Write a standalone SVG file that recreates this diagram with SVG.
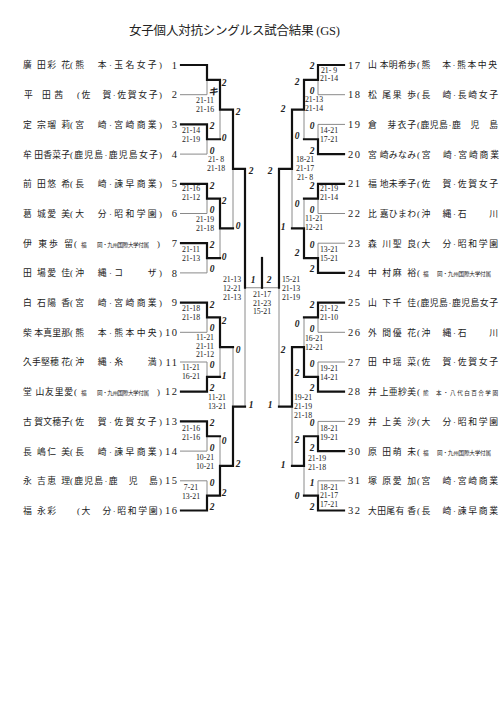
<svg xmlns="http://www.w3.org/2000/svg" width="500" height="708" viewBox="0 0 500 708">
<style>
.bg{fill:#fff}
.tt{font-family:"Liberation Serif","Noto Sans CJK JP",serif;font-size:12.5px;fill:#222}
.nm{font-family:"Liberation Serif","Noto Sans CJK JP",serif;font-size:8.8px;fill:#222}
.sm{font-size:5.6px}
.no{font-family:"Liberation Serif",serif;font-size:10.5px;letter-spacing:1.5px;fill:#222}
.nl{text-anchor:end}
.sc{font-family:"Liberation Serif",serif;font-size:7.8px;text-anchor:middle;fill:#222}
.mk{font-family:"Liberation Serif","Noto Sans CJK JP",serif;font-size:9.5px;font-style:italic;font-weight:bold;text-anchor:middle;fill:#222}
.tk{stroke:#111;stroke-width:2.2;fill:none;stroke-linejoin:miter;stroke-linecap:square}
.tn{stroke:#8a8a8a;stroke-width:1;fill:none}
</style>
<rect class="bg" x="0" y="0" width="500" height="708"/>
<text class="tt" x="129" y="35" textLength="211">女子個人対抗シングルス試合結果 (GS)</text>

<g id="connectors">
<g id="thin">
<path class="tn" d="M180,94.7H207V79.85"/>
<path class="tn" d="M180,154.1H207V139.25"/>
<path class="tn" d="M220,109.55V139.25"/>
<path class="tn" d="M180,213.5H207V198.65"/>
<path class="tn" d="M180,272.9H207V258.05"/>
<path class="tn" d="M220,228.35V258.05"/>
<path class="tn" d="M233,168.95V228.35"/>
<path class="tn" d="M180,332.3H207V317.45"/>
<path class="tn" d="M180,362H207V376.85"/>
<path class="tn" d="M220,347.15V376.85"/>
<path class="tn" d="M180,451.1H207V436.25"/>
<path class="tn" d="M180,480.8H207V495.65"/>
<path class="tn" d="M220,436.25V465.95"/>
<path class="tn" d="M233,347.15V406.55"/>
<path class="tn" d="M245,287.75V406.55"/>
<path class="tn" d="M245,287.75H279"/>
<path class="tn" d="M345,94.7H318V79.85"/>
<path class="tn" d="M345,124.4H318V139.25"/>
<path class="tn" d="M304,109.55V139.25"/>
<path class="tn" d="M345,213.5H318V198.65"/>
<path class="tn" d="M345,243.2H318V258.05"/>
<path class="tn" d="M304,198.65V228.35"/>
<path class="tn" d="M292,168.95V228.35"/>
<path class="tn" d="M345,332.3H318V317.45"/>
<path class="tn" d="M345,362H318V376.85"/>
<path class="tn" d="M304,317.45V347.15"/>
<path class="tn" d="M345,421.4H318V436.25"/>
<path class="tn" d="M345,480.8H318V495.65"/>
<path class="tn" d="M304,465.95V495.65"/>
<path class="tn" d="M292,406.55V465.95"/>
<path class="tn" d="M279,287.75V406.55"/>
</g>
<g id="thick">
<path class="tk" d="M181,65H207V79.85H220V109.55H233V168.95H245V287.75"/>
<path class="tk" d="M181,124.4H207V139.25H220"/>
<path class="tk" d="M181,183.8H207V198.65H220V228.35H233"/>
<path class="tk" d="M181,243.2H207V258.05H220"/>
<path class="tk" d="M181,302.6H207V317.45H220V347.15H233"/>
<path class="tk" d="M181,391.7H207V376.85H220"/>
<path class="tk" d="M181,421.4H207V436.25H220"/>
<path class="tk" d="M181,510.5H207V495.65H220V465.95H233V406.55H245"/>
<path class="tk" d="M344,65H318V79.85H304V109.55H292V168.95H279V287.75"/>
<path class="tk" d="M344,154.1H318V139.25H304"/>
<path class="tk" d="M344,183.8H318V198.65H304"/>
<path class="tk" d="M344,272.9H318V258.05H304V228.35H292"/>
<path class="tk" d="M344,302.6H318V317.45H304"/>
<path class="tk" d="M344,391.7H318V376.85H304V347.15H292V406.55H279"/>
<path class="tk" d="M344,451.1H318V436.25H304V465.95H292"/>
<path class="tk" d="M344,510.5H318V495.65H304"/>
<path class="tk" d="M262,258V287.75"/>
</g>
</g>

<g id="players-left">
<g id="p1"><text class="nm" x="23" y="68.4" textLength="47">廣 田彩 花</text><text class="nm" x="70" y="68.4" textLength="92">(熊　本·玉名女子)</text><text class="no nl" x="178.5" y="68.6">1</text></g>
<g id="p2"><text class="nm" x="24" y="98.1" textLength="39">平 田茜</text><text class="nm" x="77" y="98.1" textLength="85">(佐　賀·佐賀女子)</text><text class="no nl" x="178.5" y="98.3">2</text></g>
<g id="p3"><text class="nm" x="23" y="127.8" textLength="47">定 宗瑠 莉</text><text class="nm" x="70" y="127.8" textLength="92">(宮　崎·宮崎商業)</text><text class="no nl" x="178.5" y="128">3</text></g>
<g id="p4"><text class="nm" x="23" y="157.5" textLength="47">牟 田香菜子</text><text class="nm" x="70" y="157.5" textLength="92">(鹿児島·鹿児島女子)</text><text class="no nl" x="178.5" y="157.7">4</text></g>
<g id="p5"><text class="nm" x="23" y="187.2" textLength="47">前 田悠 希</text><text class="nm" x="70" y="187.2" textLength="92">(長　崎·諫早商業)</text><text class="no nl" x="178.5" y="187.4">5</text></g>
<g id="p6"><text class="nm" x="23" y="216.9" textLength="47">葛 城愛 美</text><text class="nm" x="70" y="216.9" textLength="92">(大　分·昭和学園)</text><text class="no nl" x="178.5" y="217.1">6</text></g>
<g id="p7"><text class="nm" x="23" y="246.6" textLength="50">伊 東歩 留</text><text class="nm" x="74" y="246.6">(</text><text class="nm sm" x="81" y="246.6">福</text><text class="nm sm" x="97" y="246.6" textLength="52">岡・九州国際大学付属</text><text class="nm" x="157" y="246.6">)</text><text class="no nl" x="178.5" y="246.8">7</text></g>
<g id="p8"><text class="nm" x="23" y="276.3" textLength="47">田 場愛 佳</text><text class="nm" x="70" y="276.3" textLength="92">(沖　縄·コ　　ザ)</text><text class="no nl" x="178.5" y="276.5">8</text></g>
<g id="p9"><text class="nm" x="23" y="306" textLength="47">白 石陽 香</text><text class="nm" x="70" y="306" textLength="92">(宮　崎·宮崎商業)</text><text class="no nl" x="178.5" y="306.2">9</text></g>
<g id="p10"><text class="nm" x="23" y="335.7" textLength="47">柴 本真里那</text><text class="nm" x="70" y="335.7" textLength="92">(熊　本·熊本中央)</text><text class="no nl" x="178.5" y="335.9">10</text></g>
<g id="p11"><text class="nm" x="23" y="365.4" textLength="47">久手堅穂 花</text><text class="nm" x="70" y="365.4" textLength="92">(沖　縄·糸　　満)</text><text class="no nl" x="178.5" y="365.6">11</text></g>
<g id="p12"><text class="nm" x="23" y="395.1" textLength="50">堂 山友里愛</text><text class="nm" x="74" y="395.1">(</text><text class="nm sm" x="81" y="395.1">福</text><text class="nm sm" x="97" y="395.1" textLength="52">岡・九州国際大学付属</text><text class="nm" x="157" y="395.1">)</text><text class="no nl" x="178.5" y="395.3">12</text></g>
<g id="p13"><text class="nm" x="23" y="424.8" textLength="47">古 賀文穂子</text><text class="nm" x="70" y="424.8" textLength="92">(佐　賀·佐賀女子)</text><text class="no nl" x="178.5" y="425">13</text></g>
<g id="p14"><text class="nm" x="23" y="454.5" textLength="47">長 嶋仁 美</text><text class="nm" x="70" y="454.5" textLength="92">(長　崎·諫早商業)</text><text class="no nl" x="178.5" y="454.7">14</text></g>
<g id="p15"><text class="nm" x="23" y="484.2" textLength="47">永 吉恵 理</text><text class="nm" x="70" y="484.2" textLength="92">(鹿児島·鹿　児　島)</text><text class="no nl" x="178.5" y="484.4">15</text></g>
<g id="p16"><text class="nm" x="23" y="513.9" textLength="33">福 永彩</text><text class="nm" x="77" y="513.9" textLength="85">(大　分·昭和学園)</text><text class="no nl" x="178.5" y="514.1">16</text></g>
</g>

<g id="players-right">
<g id="p17"><text class="no" x="348" y="68.6">17</text><text class="nm" x="368" y="68.4" textLength="48">山 本明希歩</text><text class="nm" x="417" y="68.4" textLength="80">(熊　本·熊本中央</text></g>
<g id="p18"><text class="no" x="348" y="98.3">18</text><text class="nm" x="368" y="98.1" textLength="48">松 尾果 歩</text><text class="nm" x="417" y="98.1" textLength="81">(長　崎·長崎女子</text></g>
<g id="p19"><text class="no" x="348" y="128">19</text><text class="nm" x="368" y="127.8" textLength="48">倉　芽衣子</text><text class="nm" x="417" y="127.8" textLength="81">(鹿児島·鹿　児　島</text></g>
<g id="p20"><text class="no" x="348" y="157.7">20</text><text class="nm" x="368" y="157.5" textLength="48">宮 崎みなみ</text><text class="nm" x="417" y="157.5" textLength="82">(宮　崎·宮崎商業</text></g>
<g id="p21"><text class="no" x="348" y="187.4">21</text><text class="nm" x="368" y="187.2" textLength="48">福 地未季子</text><text class="nm" x="417" y="187.2" textLength="81">(佐　賀·佐賀女子</text></g>
<g id="p22"><text class="no" x="348" y="217.1">22</text><text class="nm" x="368" y="216.9" textLength="48">比 嘉ひまわ</text><text class="nm" x="417" y="216.9" textLength="81">(沖　縄·石　　川</text></g>
<g id="p23"><text class="no" x="348" y="246.8">23</text><text class="nm" x="368" y="246.6" textLength="48">森 川聖 良</text><text class="nm" x="417" y="246.6" textLength="81">(大　分·昭和学園</text></g>
<g id="p24"><text class="no" x="348" y="276.5">24</text><text class="nm" x="368" y="276.3" textLength="48">中 村麻 裕</text><text class="nm" x="417" y="276.3">(</text><text class="nm sm" x="423" y="276.3">福</text><text class="nm sm" x="437" y="276.3" textLength="54">岡・九州国際大学付属</text></g>
<g id="p25"><text class="no" x="348" y="306.2">25</text><text class="nm" x="368" y="306" textLength="48">山 下千 佳</text><text class="nm" x="417" y="306" textLength="81">(鹿児島·鹿児島女子</text></g>
<g id="p26"><text class="no" x="348" y="335.9">26</text><text class="nm" x="368" y="335.7" textLength="48">外 間優 花</text><text class="nm" x="417" y="335.7" textLength="81">(沖　縄·石　　川</text></g>
<g id="p27"><text class="no" x="348" y="365.6">27</text><text class="nm" x="368" y="365.4" textLength="48">田 中瑶 菜</text><text class="nm" x="417" y="365.4" textLength="81">(佐　賀·佐賀女子</text></g>
<g id="p28"><text class="no" x="348" y="395.3">28</text><text class="nm" x="368" y="395.1" textLength="48">井 上亜紗美</text><text class="nm" x="417" y="395.1">(</text><text class="nm sm" x="423" y="395.1">熊</text><text class="nm sm" x="436" y="395.1" textLength="62">本・八代白百合学園</text></g>
<g id="p29"><text class="no" x="348" y="425">29</text><text class="nm" x="368" y="424.8" textLength="48">井 上美 沙</text><text class="nm" x="417" y="424.8" textLength="81">(大　分·昭和学園</text></g>
<g id="p30"><text class="no" x="348" y="454.7">30</text><text class="nm" x="368" y="454.5" textLength="48">原 田萌 未</text><text class="nm" x="417" y="454.5">(</text><text class="nm sm" x="423" y="454.5">福</text><text class="nm sm" x="437" y="454.5" textLength="54">岡・九州国際大学付属</text></g>
<g id="p31"><text class="no" x="348" y="484.4">31</text><text class="nm" x="368" y="484.2" textLength="48">塚 原愛 加</text><text class="nm" x="417" y="484.2" textLength="81">(宮　崎·宮崎商業</text></g>
<g id="p32"><text class="no" x="348" y="514.1">32</text><text class="nm" x="368" y="513.9" textLength="48">大田尾有 香</text><text class="nm" x="417" y="513.9" textLength="81">(長　崎·諫早商業</text></g>
</g>

<g id="marks">
<text class="mk" x="213" y="94.6">キ</text>
<text class="mk" x="212" y="129.4">2</text><text class="mk" x="212" y="153.6">0</text>
<text class="mk" x="212" y="188.8">2</text><text class="mk" x="212" y="213">0</text>
<text class="mk" x="212" y="248.2">2</text><text class="mk" x="212" y="272.4">0</text>
<text class="mk" x="212" y="307.6">2</text><text class="mk" x="212" y="330.6">0</text>
<text class="mk" x="212" y="368">0</text><text class="mk" x="212" y="391.2">2</text>
<text class="mk" x="212" y="426.4">2</text><text class="mk" x="212" y="450.6">0</text>
<text class="mk" x="212" y="485.8">0</text><text class="mk" x="212" y="510">2</text>
<text class="mk" x="224" y="85.5">2</text><text class="mk" x="224" y="140.5">0</text>
<text class="mk" x="224" y="203.5">2</text><text class="mk" x="224" y="259.5">0</text>
<text class="mk" x="224" y="323.5">2</text><text class="mk" x="224" y="378.5">1</text>
<text class="mk" x="224" y="443.5">0</text><text class="mk" x="224" y="495.5">2</text>
<text class="mk" x="238" y="114.5">2</text><text class="mk" x="238" y="228.5">0</text>
<text class="mk" x="238" y="352.5">0</text><text class="mk" x="238" y="466.5">2</text>
<text class="mk" x="251" y="173.5">2</text><text class="mk" x="251" y="407.5">1</text>
<text class="mk" x="253" y="282.5">1</text><text class="mk" x="269" y="282.5">2</text>
<text class="mk" x="270" y="173.5">2</text><text class="mk" x="270" y="407.5">1</text>
<text class="mk" x="283" y="111.5">2</text><text class="mk" x="283" y="229.5">1</text>
<text class="mk" x="283" y="352.5">2</text><text class="mk" x="283" y="467.5">1</text>
<text class="mk" x="297" y="84.5">2</text><text class="mk" x="297" y="138.5">0</text>
<text class="mk" x="297" y="206.5">0</text><text class="mk" x="297" y="255.5">2</text>
<text class="mk" x="297" y="326.5">0</text><text class="mk" x="297" y="375.5">2</text>
<text class="mk" x="297" y="442.5">2</text><text class="mk" x="297" y="498.5">0</text>
<text class="mk" x="312" y="69">2</text><text class="mk" x="312" y="94.2">0</text>
<text class="mk" x="312" y="129.4">0</text><text class="mk" x="312" y="153.6">2</text>
<text class="mk" x="312" y="188.8">2</text><text class="mk" x="312" y="213">0</text>
<text class="mk" x="312" y="248.2">0</text><text class="mk" x="312" y="272.4">2</text>
<text class="mk" x="312" y="307.6">2</text><text class="mk" x="312" y="331.8">0</text>
<text class="mk" x="312" y="367">0</text><text class="mk" x="312" y="391.2">2</text>
<text class="mk" x="312" y="426.4">0</text><text class="mk" x="312" y="450.6">2</text>
<text class="mk" x="312" y="485.8">1</text><text class="mk" x="312" y="510">2</text>
</g>

<g id="scores">
<text class="sc" x="205" y="103.2">21-11</text><text class="sc" x="205" y="111.7">21-16</text>
<text class="sc" x="191" y="132.7">21-14</text><text class="sc" x="191" y="141.7">21-19</text>
<text class="sc" x="216" y="162.2">21- 8</text><text class="sc" x="216" y="170.7">21-18</text>
<text class="sc" x="191" y="191.2">21-16</text><text class="sc" x="191" y="199.7">21-12</text>
<text class="sc" x="205" y="222.2">21-19</text><text class="sc" x="205" y="230.7">21-18</text>
<text class="sc" x="191" y="251.7">21-11</text><text class="sc" x="191" y="260.7">21-13</text>
<text class="sc" x="232" y="281.7">21-13</text><text class="sc" x="232" y="290.7">12-21</text><text class="sc" x="232" y="299.7">21-13</text>
<text class="sc" x="191" y="310.7">21-18</text><text class="sc" x="191" y="319.7">21-18</text>
<text class="sc" x="205" y="340.3">11-21</text><text class="sc" x="205" y="348.6">21-11</text><text class="sc" x="205" y="356.9">21-12</text>
<text class="sc" x="191" y="369.7">11-21</text><text class="sc" x="191" y="378.7">16-21</text>
<text class="sc" x="217" y="400.2">11-21</text><text class="sc" x="217" y="409.2">13-21</text>
<text class="sc" x="191" y="430.7">21-16</text><text class="sc" x="191" y="439.7">21-16</text>
<text class="sc" x="205" y="459.7">10-21</text><text class="sc" x="205" y="468.7">10-21</text>
<text class="sc" x="191" y="489.7">7-21</text><text class="sc" x="191" y="498.7">13-21</text>
<text class="sc" x="262" y="296.7">21-17</text><text class="sc" x="262" y="305.7">21-23</text><text class="sc" x="262" y="314.2">15-21</text>
<text class="sc" x="329" y="72.7">21- 9</text><text class="sc" x="329" y="81.2">21-14</text>
<text class="sc" x="314" y="102.2">21-13</text><text class="sc" x="314" y="110.7">21-14</text>
<text class="sc" x="329" y="132.7">14-21</text><text class="sc" x="329" y="141.7">17-21</text>
<text class="sc" x="305" y="161.7">18-21</text><text class="sc" x="305" y="170.7">21-17</text><text class="sc" x="305" y="179.7">21- 8</text>
<text class="sc" x="329" y="191.2">21-19</text><text class="sc" x="329" y="199.7">21-14</text>
<text class="sc" x="314" y="221.2">11-21</text><text class="sc" x="314" y="229.7">12-21</text>
<text class="sc" x="329" y="251.7">13-21</text><text class="sc" x="329" y="260.7">15-21</text>
<text class="sc" x="291" y="281.7">15-21</text><text class="sc" x="291" y="290.7">21-13</text><text class="sc" x="291" y="299.7">21-19</text>
<text class="sc" x="329" y="310.7">21-12</text><text class="sc" x="329" y="319.7">21-10</text>
<text class="sc" x="314" y="340.7">16-21</text><text class="sc" x="314" y="349.7">12-21</text>
<text class="sc" x="329" y="370.7">19-21</text><text class="sc" x="329" y="379.7">14-21</text>
<text class="sc" x="303" y="400.2">19-21</text><text class="sc" x="303" y="409.2">21-19</text><text class="sc" x="303" y="418.2">21-18</text>
<text class="sc" x="329" y="430.7">18-21</text><text class="sc" x="329" y="439.7">19-21</text>
<text class="sc" x="317" y="460.7">21-19</text><text class="sc" x="317" y="469.7">21-18</text>
<text class="sc" x="329" y="489.7">18-21</text><text class="sc" x="329" y="498.2">21-17</text><text class="sc" x="329" y="506.7">17-21</text>
</g>
</svg>
